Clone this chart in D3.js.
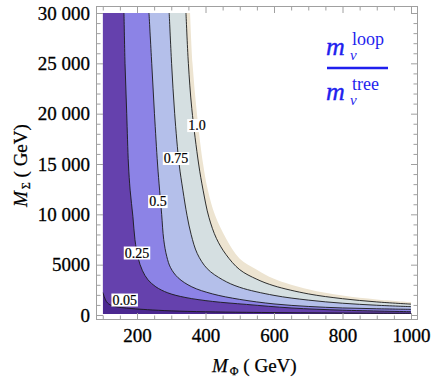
<!DOCTYPE html>
<html>
<head>
<meta charset="utf-8">
<script src="https://cdn.jsdelivr.net/npm/d3@7"></script>
<style>
body{margin:0;background:#fff}
svg{display:block}
text{font-family:"Liberation Serif","Times New Roman",Times,serif}
</style>
</head>
<body>
<svg id="chart"></svg>
<script>
var width = 436
var height = 382

// axis ticks
var phiTicks = [200, 400, 600, 800, 1000]
var sigmaTicks = [0, 5000, 10000, 15000, 20000, 25000, 30000]
var sigmaLabels = ["0", "5000", "10 000", "15 000", "20 000", "25 000", "30 000"]

// contour levels of m_loop / m_tree as [M_Phi, M_Sigma]
var levels = ["0.05", "0.25", "0.5", "0.75", "1.0"]
var contour005 = [[100,2250],[104,1850],[108,1500],[114,1200],[122,1000],[135,850],[155,740],[185,640],[230,530],[300,410],[400,320],[520,265],[700,215],[850,185],[1000,170]]
var contour025 = [[162,30000],[165,25000],[170,20000],[175,15000],[180,12400],[188,9800],[194,7500],[203,5700],[216,4400],[232,3500],[255,2800],[290,2200],[340,1750],[420,1350],[520,1050],[650,700],[800,480],[1000,330]]
var contour05 = [[235,30000],[243,25000],[251,20000],[260,15000],[266,12400],[272,10000],[278,7500],[287,5800],[298,4700],[320,3700],[360,2800],[420,2100],[500,1550],[600,1100],[700,850],[800,700],[900,620],[1000,560]]
var contour075 = [[294,30000],[301,25000],[310,20000],[323,15000],[334,12400],[346,9900],[358,8000],[376,6100],[405,4600],[450,3500],[500,2750],[600,1950],[700,1480],[800,1170],[900,970],[1000,830]]
var contour10 = [[343,30000],[350,25000],[360,20500],[380,15000],[393,12400],[410,9700],[432,7600],[460,6000],[500,4500],[550,3550],[600,2900],[700,2100],[800,1620],[900,1300],[1000,1080]]
// outer edge of the plotted range (white beyond)
var contourEdge = [[355,30000],[362,25000],[375,20000],[393,15000],[407,12400],[428,9900],[460,7600],[500,5600],[550,4500],[600,3600],[700,2550],[800,1930],[900,1550],[1000,1280]]

var bandColors = ["#4b2890", "#6541ad", "#8c83e6", "#b4bfea", "#d5dfe1", "#ede4d1", "#ffffff"]

// where the contour labels sit
var labelPhi = [164, 200, 261, 314, 375]
var labelSigma = [1540, 6210, 11320, 15600, 18870]

var svg = d3.select("#chart")
	.attr("width", width)
	.attr("height", height)

var x = d3.scaleLinear()
	.domain([100, 1000])
	.range([102.75, 411])

var y = d3.scaleLinear()
	.domain([0, 30000])
	.range([315, 13])

var phiMin = 100, phiMax = 1000
var sigMin = 100, sigMax = 30000

svg.append("clipPath")
	.attr("id", "plotClip")
	.append("rect")
	.attr("x", x(phiMin))
	.attr("y", y(sigMax))
	.attr("width", x(phiMax) - x(phiMin))
	.attr("height", y(sigMin) - y(sigMax))

var plot = svg.append("g").attr("clip-path", "url(#plotClip)")

plot.append("rect")
	.attr("x", x(phiMin))
	.attr("y", y(sigMax))
	.attr("width", x(phiMax) - x(phiMin))
	.attr("height", y(sigMin) - y(sigMax))
	.attr("fill", bandColors[0])

var contourLine = d3.line()
	.x(function(d){ return x(d[0]) })
	.y(function(d){ return y(d[1]) })
	.curve(d3.curveCatmullRom.alpha(0.5))

var contours = [contour005, contour025, contour05, contour075, contour10, contourEdge]

// each band = everything above/right of its contour
contours.forEach(function(c, i){
	var corners = [[phiMax, sigMax]]
	if (c[0][1] < sigMax) corners.push([phiMin, sigMax])
	var d = contourLine(c) + corners.map(function(p){
		return "L" + x(p[0]) + "," + y(p[1])
	}).join("") + "Z"
	plot.append("path")
		.attr("d", d)
		.attr("fill", bandColors[i + 1])
})

plot.selectAll(".contour")
	.data(contours.slice(0, 5))
	.join("path")
	.attr("class", "contour")
	.attr("d", contourLine)
	.attr("fill", "none")
	.attr("stroke", "#1a1a1a")
	.attr("stroke-width", 0.9)

// contour labels
var labels = svg.selectAll(".clabel")
	.data(levels)
	.join("g")
	.attr("class", "clabel")
	.attr("transform", function(d, i){
		return "translate(" + x(labelPhi[i]) + "," + y(labelSigma[i]) + ")"
	})

labels.append("text")
	.attr("text-anchor", "middle")
	.attr("dy", "0.36em")
	.attr("font-size", 14)
	.attr("stroke", "#000")
	.attr("stroke-width", 0.2)
	.text(function(d){ return d })

labels.each(function(){
	var g = d3.select(this)
	var bb = g.select("text").node().getBBox()
	g.insert("rect", "text")
		.attr("x", bb.x - 1)
		.attr("y", bb.y + 1)
		.attr("width", bb.width + 2)
		.attr("height", bb.height - 2)
		.attr("fill", "#fff")
})

// frame
svg.append("rect")
	.attr("x", 96.5)
	.attr("y", 6.5)
	.attr("width", 321)
	.attr("height", 313)
	.attr("fill", "none")
	.attr("stroke", "#a0a0a0")
	.attr("stroke-width", 1)

var phiMinor = d3.range(100, 1001, 50).filter(function(v){ return phiTicks.indexOf(v) < 0 })
var sigmaMinor = d3.range(0, 30001, 1000).filter(function(v){ return sigmaTicks.indexOf(v) < 0 })

function styleAxis(g){
	g.attr("font-family", null)
	g.select(".domain").remove()
	g.selectAll(".tick line").attr("stroke", "#a0a0a0")
	g.selectAll("text")
		.attr("fill", "#000")
		.attr("stroke", "#000")
		.attr("stroke-width", 0.3)
		.attr("font-size", 19)
}

svg.append("g")
	.attr("transform", "translate(0,319)")
	.call(d3.axisBottom(x).tickValues(phiTicks).tickSize(-6).tickPadding(9.5).tickFormat(d3.format("d")))
	.call(styleAxis)
svg.append("g")
	.attr("transform", "translate(0,319)")
	.call(d3.axisBottom(x).tickValues(phiMinor).tickSize(-3.5).tickFormat(""))
	.call(styleAxis)
svg.append("g")
	.attr("transform", "translate(0,7)")
	.call(d3.axisTop(x).tickValues(phiTicks).tickSize(-6).tickFormat(""))
	.call(styleAxis)
svg.append("g")
	.attr("transform", "translate(0,7)")
	.call(d3.axisTop(x).tickValues(phiMinor).tickSize(-3.5).tickFormat(""))
	.call(styleAxis)

svg.append("g")
	.attr("transform", "translate(97,0)")
	.call(d3.axisLeft(y).tickValues(sigmaTicks).tickSize(-6).tickPadding(7)
		.tickFormat(function(d, i){ return sigmaLabels[i] }))
	.call(styleAxis)
svg.append("g")
	.attr("transform", "translate(97,0)")
	.call(d3.axisLeft(y).tickValues(sigmaMinor).tickSize(-3.5).tickFormat(""))
	.call(styleAxis)
svg.append("g")
	.attr("transform", "translate(417,0)")
	.call(d3.axisRight(y).tickValues(sigmaTicks).tickSize(-6).tickFormat(""))
	.call(styleAxis)
svg.append("g")
	.attr("transform", "translate(417,0)")
	.call(d3.axisRight(y).tickValues(sigmaMinor).tickSize(-3.5).tickFormat(""))
	.call(styleAxis)

// axis titles
function axisTitle(sel, sub){
	sel.attr("stroke", "#000").attr("stroke-width", 0.25)
	sel.append("tspan").attr("font-style", "italic").attr("font-size", 19).text("M")
	sel.append("tspan").attr("font-size", 12).attr("dx", 2).attr("dy", 3).text(sub)
	sel.append("tspan").attr("font-size", 19).attr("dy", -3).text(" ( GeV)")
}

svg.append("text")
	.attr("x", 212)
	.attr("y", 372)
	.call(axisTitle, "\u03a6")

svg.append("text")
	.attr("transform", "translate(27,207) rotate(-90)")
	.call(axisTitle, "\u03a3")

// m_nu^loop / m_nu^tree annotation
var blue = "#1f1fee"
var note = svg.append("g").attr("fill", blue)

function massTerm(baseY, word){
	note.append("text").attr("x", 326).attr("y", baseY)
		.attr("font-style", "italic").attr("font-size", 26)
		.attr("stroke", blue).attr("stroke-width", 0.4).text("m")
	note.append("text").attr("x", 350).attr("y", baseY + 5)
		.attr("font-style", "italic").attr("font-size", 15).text("\u03bd")
	note.append("text").attr("x", 352).attr("y", baseY - 10)
		.attr("font-size", 18).text(word)
}
massTerm(55, "loop")
massTerm(100, "tree")

note.append("line")
	.attr("x1", 327).attr("x2", 388)
	.attr("y1", 68).attr("y2", 68)
	.attr("stroke", blue)
	.attr("stroke-width", 2.5)
</script>
</body>
</html>
